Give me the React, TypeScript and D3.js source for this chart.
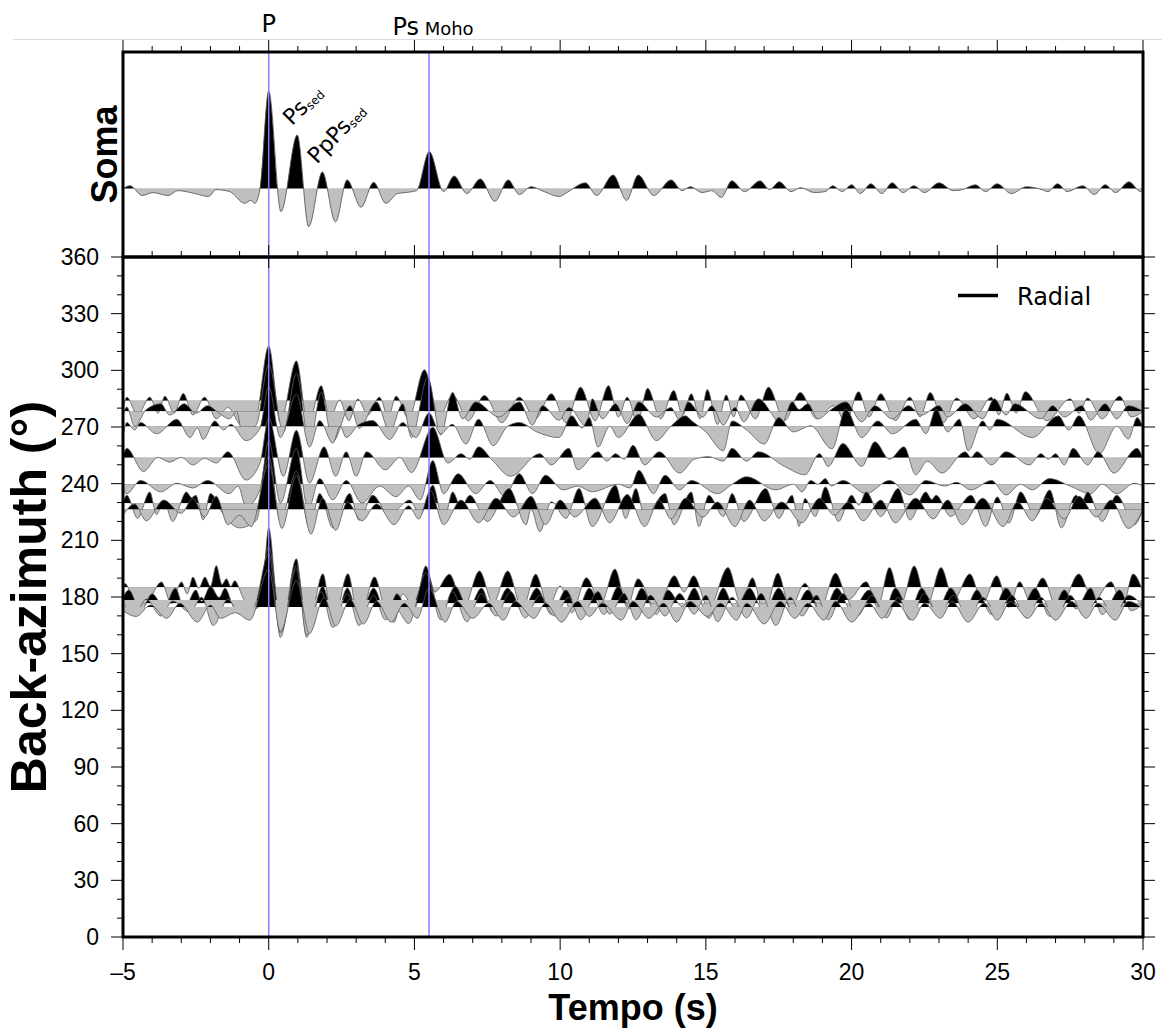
import React from "react";
import * as d3 from "d3";

// ---------- axes / ticks ----------
const xMajorTicks = [-5, 0, 5, 10, 15, 20, 25, 30];
const xTickLabels = ["–5", "0", "5", "10", "15", "20", "25", "30"];
const xMinorTicks = d3.range(-5, 31, 1);
const yMajorTicks = [0, 30, 60, 90, 120, 150, 180, 210, 240, 270, 300, 330, 360];
const yMinorTicks = d3.range(0, 361, 10);

// arrival markers (s)
const arrivalTimes = [0, 5.5];

// ---------- stacked trace (Soma): [t, amp, t, amp, ...] normalized ----------
const stackTrace = [-5,0, -4.76,0.03, -4.34,-0.07, -3.97,-0.04, -3.45,-0.07, -3.12,-0.02, -2.53,-0.05, -2.06,-0.08, -1.81,-0.01, -1.34,-0.03, -0.82,-0.15, -0.62,-0.12, -0.48,-0.15, -0.3,0, 0,1.0, 0.42,-0.235, 0.98,0.55, 1.37,-0.39, 1.84,0.17, 2.29,-0.34, 2.69,0.09, 3.17,-0.19, 3.6,0.065, 4.02,-0.15, 4.42,-0.05, 4.68,-0.04, 5.07,-0.02, 5.51,0.38, 6.0,-0.03, 6.36,0.13, 6.8,-0.05, 7.26,0.1, 7.76,-0.13, 8.22,0.09, 8.6,-0.06, 9.0,0.02, 9.45,-0.03, 9.97,-0.08, 10.23,-0.04, 10.87,0.06, 11.25,-0.07, 11.82,0.14, 12.28,-0.12, 12.68,0.14, 13.21,-0.07, 13.81,0.09, 14.18,-0.02, 14.47,0.02, 14.87,-0.04, 15.2,-0.02, 15.53,-0.09, 15.89,0.08, 16.33,-0.03, 16.86,0.08, 17.19,-0.01, 17.52,0.07, 17.92,-0.03, 18.25,0.01, 18.72,-0.04, 19.1,-0.03, 19.35,0.03, 19.68,-0.03, 20.0,0.04, 20.3,-0.05, 20.66,0.05, 21.04,-0.05, 21.39,0.06, 21.77,-0.04, 22.14,0.03, 22.5,-0.04, 23.0,0.06, 23.49,-0.02, 23.8,-0.01, 24.25,0.04, 24.6,-0.03, 25.0,0.05, 25.48,-0.05, 26.0,0.02, 26.54,-0.01, 26.74,-0.03, 27.07,0.05, 27.4,-0.03, 27.93,0.03, 28.33,-0.06, 28.7,0.04, 29.06,-0.04, 29.52,0.07, 29.92,-0.03, 30,0];

// ---------- individual radial traces: back-azimuth (deg), DC shift (deg), amplitudes in deg ----------
const traceBaz = [283.9, 278.3, 270.2, 253.7, 239.7, 229.6, 226.3, 185.1, 176.7, 178.4, 174.7];
const traceShift = [-5.6, 0, -0.8, -0.8, -1, -3, 0, -8.5, 0, -1.5, 0];

const traceA = [-5,0, -4.87,7.5, -4.5,-2, -4.08,7.5, -3.8,-1, -3.56,8, -3.25,-1, -2.93,9.5, -2.6,-2, -2.2,7.5, -1.8,-4, -1.4,2, -0.9,-8, -0.45,-4, 0,34.6, 0.4,-6, 0.95,26.7, 1.35,-8, 1.8,13.6, 2.1,-4, 2.43,6, 2.75,-5, 3.06,6.5, 3.4,-2, 3.8,7.5, 4.1,-3, 4.37,8, 4.8,-4, 5.34,22, 5.85,-3, 6.31,8.7, 6.85,-5, 7.4,8.4, 8.0,-6, 8.6,7.5, 9.15,-4, 9.7,9.3, 10.2,-6, 10.7,12.8, 11.2,-5, 11.66,13.6, 12.0,-3, 12.3,7.5, 12.65,-6, 13.0,12.2, 13.45,-4, 13.9,11, 14.2,-2, 14.5,9.3, 14.8,-4, 15.05,11.5, 15.4,-7, 15.7,8.7, 15.95,-3, 16.2,8.7, 16.7,-4, 17.15,12.8, 17.7,-5, 18.24,10, 18.8,-4, 19.4,3, 19.8,-6, 20.24,10.4, 20.6,-3, 21.0,9.3, 21.5,-5, 22.0,7.5, 22.35,-3, 22.7,10, 23.15,-6, 23.6,7, 24.2,-4, 24.8,7.5, 25.05,-2, 25.33,9.6, 25.65,-1, 25.96,10.4, 26.7,-5, 27.5,6.6, 27.8,-1, 28.1,7, 28.6,-4, 29.2,8, 29.6,-3, 30,0];

const traceB = [-5,-2, -4.87,2.3, -4.6,-8, -4.2,1, -3.7,4, -3.4,-2, -2.9,4, -2.5,-1, -2.1,3, -1.7,-1, -1.35,-4, -1.1,0, -0.9,-12.6, -0.42,-7, 0,25, 0.5,-11, 0.95,20, 1.4,-18, 1.8,10, 2.2,-16, 2.8,3, 3.1,-9, 3.7,5, 4.15,-11, 4.6,4, 4.9,-14, 5.46,18, 5.9,-12.6, 6.31,10, 6.65,-4, 7.1,5, 7.9,-3, 8.6,5, 9.05,-7.3, 9.4,3, 9.96,-4.7, 10.3,2, 10.9,-8, 11.1,6.6, 11.45,-4, 11.9,4, 12.3,-6.5, 12.7,5, 13.3,-3, 13.8,2, 14.1,-4.7, 14.4,5, 14.9,-3, 15.2,3, 15.6,-7.3, 16.0,2, 16.3,-5.6, 16.8,6.6, 17.6,-6.5, 17.96,5, 18.2,1, 18.5,4, 18.85,-4, 19.3,1, 19.8,5, 20.35,-5.6, 20.8,3, 21.4,-4, 21.95,3, 22.4,-2, 23.0,3, 23.3,-3, 23.9,4, 24.5,-4, 24.9,6.6, 25.3,-2, 25.6,4, 26.5,-4, 26.9,3, 27.3,-3, 27.9,3, 28.2,-4.7, 28.7,4, 29.1,-4, 29.5,3, 30,0];

const traceC = [-5,-5, -4.87,3, -4.6,-1, -4.4,3, -3.85,-3, -3.15,4.7, -2.7,-5, -2.45,0, -2.25,-6, -1.85,3.8, -1.55,-1, -1.3,2, -0.78,-6.6, -0.3,0, 0,22, 0.4,-5, 0.95,18, 1.4,-10, 1.75,4, 2.2,-8, 2.45,1, 2.66,-5, 3.1,2, 3.57,4, 4.15,-6, 4.6,3, 5.05,-5, 5.5,8, 5.9,-3, 6.3,2, 6.77,-8.4, 7.2,4.7, 7.7,-9.3, 8.2,1, 8.6,3, 9.2,-2, 9.96,-5, 10.4,6.5, 10.75,0, 11.0,5.6, 11.3,-10, 11.7,1, 12.0,-5, 12.7,7.3, 13.3,-6.6, 13.8,1, 14.3,6.5, 14.5,4, 15.0,-2, 15.6,-12, 15.9,3.8, 16.4,-1, 17.0,-8.4, 17.5,5.6, 18.0,-2, 18.6,1.2, 19.33,-11, 19.8,10, 20.35,-5, 20.9,3.8, 21.4,-3, 22.2,4.7, 22.55,-3, 22.9,10, 23.3,-2, 23.7,4.7, 24.0,-12, 24.5,3.8, 24.75,-1, 25.0,4.7, 26.2,-5, 27.1,6.5, 27.45,-1, 27.8,6.5, 28.5,-13.6, 29.1,1, 29.5,-5.8, 29.8,5.6, 30,0];

const traceD = [-5,2, -4.87,5.8, -4.3,-6.5, -3.8,1, -3.4,-1.5, -3.0,1, -2.6,-3, -2.2,0.5, -1.8,-2, -1.4,4, -0.78,-11, -0.3,-2, 0,22, 0.5,-9, 0.95,15.4, 1.4,-12.6, 1.9,6.6, 2.3,-9, 2.66,4, 3.0,-9, 3.36,4, 4.0,-5.6, 4.5,1, 4.9,-7, 5.63,17, 6.15,-2, 6.6,3, 6.9,0, 7.2,6.6, 7.7,-1, 8.3,-9, 9.3,3, 9.7,-3, 10.3,5.8, 10.6,-5.6, 11.3,4, 11.6,-1, 11.9,3, 12.2,0, 12.5,7.5, 12.9,-3, 13.4,4, 14.1,-7.3, 14.6,0, 15.1,1.4, 15.6,-1, 15.9,5.8, 16.4,-1, 16.8,4, 17.7,-3.8, 18.4,-8.2, 18.9,3, 19.2,-3.8, 19.7,8.4, 20.35,-3.8, 20.8,9.3, 21.3,0, 21.8,6.6, 22.2,-8.2, 22.6,-1, 23.1,-7.3, 23.9,4, 24.1,1, 24.3,4, 24.8,-3, 25.3,4, 26.1,-3, 26.5,3, 26.75,0, 27.0,3, 27.3,-3, 27.6,5.8, 28.1,-3, 28.46,4, 29.0,-7.3, 29.8,5.8, 30,0];

const traceE = [-5,-2, -4.87,-4, -4.4,3, -3.7,-3, -3.15,1.5, -2.6,-1, -2.1,3, -1.35,-4, -1.05,0, -0.78,-11, -0.3,-2, 0,24, 0.4,-9, 0.95,20, 1.35,-12.6, 1.75,4, 2.2,-7.3, 2.66,3, 3.2,-9, 3.8,0, 4.37,-5.6, 4.8,0, 5.2,-7.3, 5.63,13.6, 6.0,-4, 6.5,6.6, 7.1,-4, 7.6,3, 8.1,-5.6, 8.6,6.6, 9.05,-4, 9.5,5.8, 10.1,-2, 10.6,0, 11.1,-3, 12.0,1, 12.4,-1, 12.7,8.4, 13.2,-4, 13.6,5.8, 14.1,-2, 14.5,3, 15.4,-4, 15.9,1, 16.4,5, 17.4,-2, 18.0,1, 18.3,-3, 18.6,3, 18.85,1, 19.1,4, 19.3,0, 19.7,3, 20.5,-4, 21.3,3, 22.0,-4.7, 22.55,3, 23.2,0, 23.6,2, 24.1,-2, 24.8,3, 25.3,-4.7, 25.8,1, 26.2,-2, 26.8,4, 27.5,0, 28.2,-4, 28.6,1, 29.1,-4, 29.7,1.5, 30,0];

const traceF = [-5,3, -4.87,7.3, -4.5,-5, -4.08,9, -3.85,-3, -3.6,4.7, -3.3,-6.6, -2.82,9, -2.65,6, -2.5,7.3, -2.25,-5.8, -2.0,8.2, -1.55,-3, -1.0,-10, -0.42,-6, 0,28, 0.4,-6.6, 0.95,20, 1.4,-10, 1.75,8.2, 2.2,-10, 2.78,8.2, 3.1,-6, 3.57,7.3, 4.15,-4, 4.5,1, 4.83,4.7, 5.2,-3, 5.63,12.6, 6.0,-7.5, 6.31,9, 6.6,1, 6.9,7.3, 7.5,-6.6, 8.25,10.8, 8.83,-8.4, 9.0,0, 9.3,-12, 9.7,3.8, 10.2,-5, 10.65,10.8, 11.1,-9.3, 11.9,12.6, 12.25,-5, 12.6,10.8, 12.9,-4, 13.6,8.2, 13.9,-8.4, 14.5,9, 14.76,-9.3, 15.1,7.3, 15.6,-4, 15.9,8.2, 16.3,-6.6, 17.05,10.8, 17.5,-5, 17.96,7.3, 18.2,-9.3, 18.4,5.6, 18.75,-4, 19.1,11.7, 19.55,-6.6, 20.0,7.3, 20.25,2, 20.5,9, 21.0,-4, 21.6,10.8, 22.0,-5.8, 22.55,9, 22.75,5, 22.9,7.3, 23.4,-4, 24.1,7.3, 24.6,-9.3, 25.0,6.4, 25.4,-7.5, 25.8,9, 26.3,-4, 26.8,10, 27.2,-10, 27.7,7.3, 27.9,4, 28.1,9, 28.6,-6.6, 29.1,7.3, 29.7,-8.4, 30,0];

const traceG = [-5,-3, -4.6,3, -4.2,-6, -3.6,5, -3.0,-2, -2.6,6, -2.2,-4, -1.8,7, -1.4,-8, -1.0,-3, -0.6,-9, 0,24, 0.45,-10, 0.95,18, 1.45,-13, 1.85,6, 2.3,-11, 2.7,4, 3.2,-6, 3.7,3, 4.3,-8, 4.8,2, 5.15,-5, 5.55,10, 6.0,-8, 6.6,5, 7.2,-7, 7.8,6, 8.4,-4, 9.0,7, 9.5,-8, 10.0,5, 10.5,-4, 11.2,6, 11.7,-7, 12.3,8, 12.9,-9, 13.4,5, 13.8,-5, 14.3,6, 14.9,-4, 15.4,4, 16.0,-9, 16.5,5, 17.0,-6, 17.6,4, 18.3,-7, 18.9,6, 19.4,-3, 19.9,4, 20.4,-6, 21.0,5, 21.5,-7, 22.2,6, 22.8,-5, 23.3,5, 23.8,-8, 24.5,6, 25.2,-9, 25.7,4, 26.2,-6, 26.7,6, 27.3,-5, 27.8,7, 28.4,-4, 28.9,5, 29.5,-10, 30,0];

const traceH = [-5,6, -4.93,10.5, -4.5,-4, -4.1,2, -3.68,11.4, -3.35,0, -2.99,11.4, -2.8,5, -2.6,14, -2.4,8, -2.19,14, -2.0,9, -1.8,20, -1.6,10, -1.45,13, -1.3,9, -1.17,12, -0.85,2, -0.5,-3, -0.25,0, 0,40, 0.4,-18, 0.95,23.6, 1.3,-18, 1.86,15.7, 2.2,-12, 2.72,15.7, 3.1,-10, 3.63,14, 4.0,-4, 4.3,-10, 4.6,5, 5.0,-3, 5.39,19.8, 5.7,6, 6.2,15.4, 6.7,-2, 7.23,17.2, 7.7,0, 8.2,17.2, 8.7,-3, 9.16,15.4, 9.6,-2, 10.0,9.2, 10.4,-5, 10.9,13.6, 11.4,0, 11.88,18.2, 12.3,-2, 12.67,13, 13.3,-4, 13.92,14.6, 14.25,6, 14.58,14.6, 15.1,-3, 15.76,19, 16.2,0, 16.6,13.5, 17.0,-6, 17.47,16, 17.9,-3, 18.4,10.6, 18.9,-4, 19.45,16, 19.9,2, 20.5,11.5, 20.9,-2, 21.3,19, 21.7,0, 22.15,19.8, 22.6,-1, 23.07,19, 23.5,2, 24.06,15.6, 24.5,0, 24.98,14.6, 25.4,-2, 25.77,11.5, 26.1,2, 26.56,13.5, 27.1,-5, 27.8,15.6, 28.3,1, 28.9,11.5, 29.3,-2, 29.66,15.6, 30,6];

const traceI = [-5,3, -4.8,7, -4.4,-4, -4.0,5, -3.6,-2, -3.2,8, -2.9,-3, -2.5,7, -2.3,1, -2.0,9, -1.7,3, -1.5,8, -1.2,-2, -0.8,-5, -0.4,-2, 0,30, 0.45,-14, 0.95,20, 1.35,-15, 1.85,9, 2.25,-10, 2.7,8, 3.1,-8, 3.6,8, 4.05,-6, 4.4,5, 4.8,-5, 5.45,15, 5.9,-6, 6.4,9, 6.85,-3, 7.3,8, 7.7,-5, 8.2,8, 8.7,-4, 9.2,8, 9.7,-6, 10.2,7, 10.6,-3, 11.0,8, 11.5,-6, 12.0,9, 12.4,-3, 12.8,8, 13.3,-6, 13.7,7, 14.2,-2, 14.6,8, 15.1,-8, 15.6,8, 16.0,-3, 16.5,8, 17.0,-5, 17.5,8, 18.0,-4, 18.5,7, 19.0,-6, 19.5,8, 20.0,-4, 20.6,7, 21.1,-5, 21.5,8, 22.0,-4, 22.4,8, 22.9,-5, 23.4,8, 23.9,-3, 24.3,7, 24.8,-6, 25.3,8, 25.8,-3, 26.3,8, 26.8,-7, 27.3,7, 27.7,-3, 28.2,8, 28.6,-6, 29.2,7, 29.6,-4, 30,0];

const traceJ = [-5,0, -4.6,-6, -4.2,2, -3.7,-7, -3.3,1, -2.7,-5, -2.3,3, -1.9,-12, -1.4,2, -1.0,-6, -0.5,-2, 0,26, 0.4,-16, 0.95,18, 1.3,-17, 1.8,6, 2.2,-13, 2.7,5, 3.1,-12, 3.6,4, 4.0,-9, 4.4,-4, 4.8,-11, 5.4,16, 5.9,-9, 6.3,6, 6.8,-10, 7.3,5, 7.8,-7, 8.3,6, 8.8,-8, 9.3,4, 9.8,-7, 10.3,3, 10.7,-9, 11.3,6, 11.7,-6, 12.2,5, 12.6,-9, 13.1,4, 13.6,-7, 14.1,5, 14.6,-6, 15.0,4, 15.4,-10, 15.9,3, 16.4,-8, 16.9,5, 17.4,-12, 17.9,3, 18.3,-7, 18.8,4, 19.2,-9, 19.7,5, 20.2,-7, 20.7,4, 21.2,-8, 21.6,3, 22.0,-9, 22.5,5, 23.0,-7, 23.5,4, 24.0,-9, 24.5,3, 25.0,-6, 25.5,4, 26.0,-8, 26.5,3, 27.0,-9, 27.5,4, 28.0,-7, 28.5,3, 29.0,-8, 29.5,4, 30,-2];

const traceK = [-5,-2, -4.55,-5, -4.05,1, -3.5,-6, -3.05,2, -2.45,-8, -2.0,1, -1.65,-6, -1.15,-3, -0.65,-7, 0,20, 0.4,-13, 0.95,14, 1.4,-14, 1.9,5, 2.3,-10, 2.8,4, 3.25,-9, 3.7,3, 4.2,-8, 4.65,2, 5.1,-6, 5.5,10, 6.05,-8, 6.45,3, 7.0,-6, 7.55,2, 8.05,-7, 8.45,3, 9.1,-6, 9.5,2, 10.05,-8, 10.6,3, 11.0,-5, 11.45,2, 12.1,-7, 12.5,3, 13.05,-6, 13.55,2, 14.0,-8, 14.45,3, 15.05,-5, 15.5,2, 16.05,-7, 16.4,2, 17.0,-9, 17.55,3, 18.05,-6, 18.5,2, 19.05,-7, 19.45,3, 20.0,-8, 20.6,2, 21.05,-6, 21.5,3, 22.1,-7, 22.5,2, 23.05,-6, 23.45,3, 24.0,-8, 24.55,2, 25.0,-7, 25.45,3, 26.05,-6, 26.5,2, 27.0,-7, 27.55,3, 28.05,-6, 28.45,2, 29.05,-7, 29.5,3, 30,-1];

const traceData = [traceA, traceB, traceC, traceD, traceE, traceF, traceG, traceH, traceI, traceJ, traceK];

function toPairs(flat: number[]): [number, number][] {
  const out: [number, number][] = [];
  for (let i = 0; i < flat.length; i += 2) out.push([flat[i], flat[i + 1]]);
  return out;
}

const SANS = "'Liberation Sans', Arial, Helvetica, sans-serif";
const DEJAVU = "'DejaVu Sans', Verdana, sans-serif";
const FILL_NEG = "#bfbfbf";
const OUTLINE = "#5a5a5a";

export default function App() {
  const x = d3.scaleLinear().domain([-5, 30]).range([123, 1143]);
  const yB = d3.scaleLinear().domain([0, 360]).range([937, 257]);
  const yT = d3.scaleLinear().domain([-0.7, 1.4]).range([257, 52]);

  const left = x(-5), right = x(30);
  const topT = yT(1.4), botT = yT(-0.7);
  const topB = yB(360), botB = yB(0);

  const stackPts = toPairs(stackTrace);
  const stackRef = yT(0);
  const stackArea = d3.area<[number, number]>().x(d => x(d[0])).y0(stackRef).y1(d => yT(d[1])).curve(d3.curveMonotoneX);
  const stackLine = d3.line<[number, number]>().x(d => x(d[0])).y(d => yT(d[1])).curve(d3.curveMonotoneX);

  return (
    <svg width={1162} height={1030} style={{ position: "absolute", left: 0, top: 0, background: "#fff" }}>
      <defs>
        <clipPath id="panelT"><rect x={left} y={topT} width={right - left} height={botT - topT} /></clipPath>
        <clipPath id="panelB"><rect x={left} y={topB} width={right - left} height={botB - topB} /></clipPath>
        <clipPath id="stackPos"><rect x={left} y={topT} width={right - left} height={stackRef - topT} /></clipPath>
        <clipPath id="stackNeg"><rect x={left} y={stackRef} width={right - left} height={botT - stackRef} /></clipPath>
        {traceData.map((_, i) => {
          const yRef = yB(traceBaz[i]);
          return (
            <React.Fragment key={i}>
              <clipPath id={`pos${i}`}><rect x={left} y={topB} width={right - left} height={yRef - topB} /></clipPath>
              <clipPath id={`neg${i}`}><rect x={left} y={yRef} width={right - left} height={botB - yRef} /></clipPath>
            </React.Fragment>
          );
        })}
      </defs>

      <line x1={13} x2={1162} y1={39.5} y2={39.5} stroke="#dcdcdc" strokeWidth={1} />

      <path d={stackArea(stackPts) || ""} fill="#000" clipPath="url(#stackPos)" />
      <path d={stackArea(stackPts) || ""} fill={FILL_NEG} clipPath="url(#stackNeg)" />
      <path d={stackLine(stackPts) || ""} fill="none" stroke={OUTLINE} strokeWidth={0.9} clipPath="url(#panelT)" />

      {traceData.map((flat, i) => {
        const pts = toPairs(flat);
        const base = traceBaz[i];
        const shift = traceShift[i];
        const yRef = yB(base);
        const area = d3.area<[number, number]>().x(d => x(d[0])).y0(yRef).y1(d => yB(base + shift + d[1])).curve(d3.curveMonotoneX);
        const line = d3.line<[number, number]>().x(d => x(d[0])).y(d => yB(base + shift + d[1])).curve(d3.curveMonotoneX);
        const a = area(pts) || "";
        return (
          <g key={i}>
            <path d={a} fill={FILL_NEG} clipPath={`url(#neg${i})`} />
            <path d={a} fill="#000" clipPath={`url(#pos${i})`} />
            <path d={line(pts) || ""} fill="none" stroke={OUTLINE} strokeWidth={0.8} clipPath="url(#panelB)" />
          </g>
        );
      })}

      {arrivalTimes.map((t, i) => (
        <line key={i} x1={x(t)} x2={x(t)} y1={topT} y2={botB} stroke="#7f7fff" strokeWidth={1.5} />
      ))}

      <line x1={958} x2={998} y1={295.5} y2={295.5} stroke="#000" strokeWidth={3.5} />
      <text x={1017} y={305} fontFamily={DEJAVU} fontSize={24} fill="#000">Radial</text>

      <rect x={left} y={topT} width={right - left} height={botT - topT} fill="none" stroke="#000" strokeWidth={3} />
      <rect x={left} y={topB} width={right - left} height={botB - topB} fill="none" stroke="#000" strokeWidth={3} />

      {xMinorTicks.map(t => {
        const major = t % 5 === 0;
        return (
          <g key={`xt${t}`} stroke="#000" strokeWidth={1}>
            <line x1={x(t)} x2={x(t)} y1={topT} y2={topT - (major ? 12 : 6)} />
            <line x1={x(t)} x2={x(t)} y1={topB} y2={topB - (major ? 12 : 6)} />
            {major && <line x1={x(t)} x2={x(t)} y1={topB} y2={topB + 11} />}
            <line x1={x(t)} x2={x(t)} y1={botB} y2={botB + (major ? 13 : 6)} />
          </g>
        );
      })}
      {xMajorTicks.map((t, i) => (
        <text key={`xl${t}`} x={x(t)} y={980} textAnchor="middle" fontFamily={SANS} fontSize={23} fill="#000">{xTickLabels[i]}</text>
      ))}

      {yMinorTicks.map(v => {
        const major = v % 30 === 0;
        return (
          <g key={`yt${v}`} stroke="#000" strokeWidth={1}>
            <line x1={left} x2={left - (major ? 12 : 6)} y1={yB(v)} y2={yB(v)} />
            <line x1={right} x2={right + (major ? 12 : 6)} y1={yB(v)} y2={yB(v)} />
          </g>
        );
      })}
      {yMajorTicks.map(v => (
        <text key={`yl${v}`} x={99} y={yB(v) + 8} textAnchor="end" fontFamily={SANS} fontSize={23} fill="#000">{v}</text>
      ))}

      <text x={(left + right) / 2} y={1020} textAnchor="middle" fontFamily={SANS} fontWeight="bold" fontSize={36} fill="#000">Tempo (s)</text>
      <text transform={`translate(46,${(topB + botB) / 2}) rotate(-90)`} textAnchor="middle" fontFamily={SANS} fontWeight="bold" fontSize={50} fill="#000">Back-azimuth (°)</text>
      <text transform={`translate(117,${(topT + botT) / 2}) rotate(-90)`} textAnchor="middle" fontFamily={SANS} fontWeight="bold" fontSize={36} fill="#000">Soma</text>

      <text x={x(0)} y={32} textAnchor="middle" fontFamily={DEJAVU} fontSize={24} fill="#000">P</text>
      <text x={x(5.5) + 4} y={35} textAnchor="middle" fontFamily={DEJAVU} fill="#000">
        <tspan fontSize={24}>Ps</tspan><tspan fontSize={18}> Moho</tspan>
      </text>
      <text transform={`translate(${x(0.8)},${yT(0.64)}) rotate(-45)`} fontFamily={DEJAVU} fill="#000">
        <tspan fontSize={22}>Ps</tspan><tspan fontSize={12} dy={2}>sed</tspan>
      </text>
      <text transform={`translate(${x(1.66)},${yT(0.245)}) rotate(-47)`} fontFamily={DEJAVU} fill="#000">
        <tspan fontSize={22}>PpPs</tspan><tspan fontSize={12} dy={2}>sed</tspan>
      </text>
    </svg>
  );
}
